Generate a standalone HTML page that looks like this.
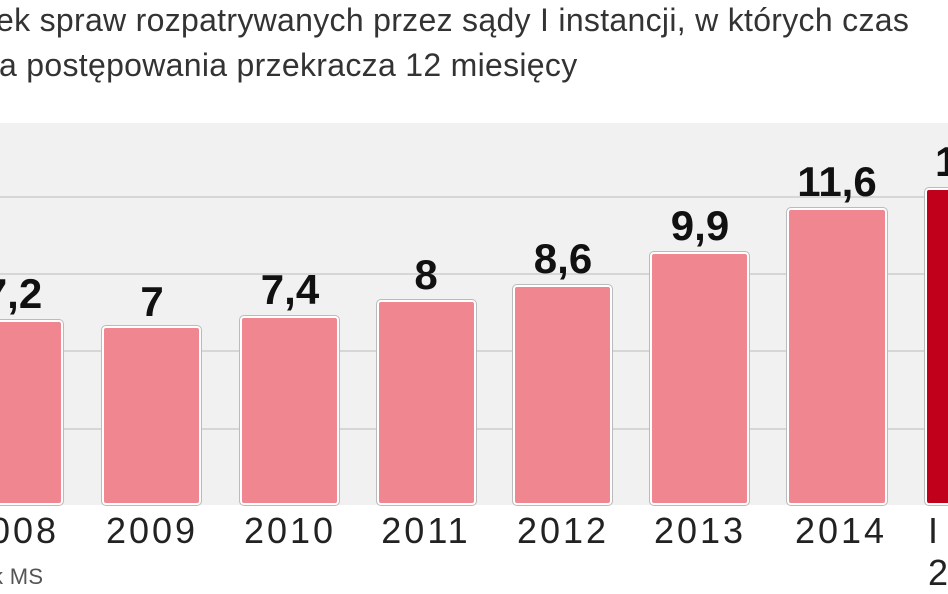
<!DOCTYPE html>
<html><head><meta charset="utf-8"><style>
body{margin:0;width:948px;height:593px;overflow:hidden;background:#fff;position:relative;font-family:"Liberation Sans",sans-serif}
.t{position:absolute;font-size:32px;color:#333;white-space:nowrap;letter-spacing:0.3px}
.chart{position:absolute;left:0;top:123px;width:948px;height:382px;background:#f1f1f1}
.g{position:absolute;left:0;width:948px;height:2px;background:#d6d6d6}
.b{position:absolute;background:#f08690;border:2px solid #fff;outline:1px solid #bbb;border-radius:4px;box-sizing:border-box}
.v{position:absolute;font-family:"Liberation Sans Narrow","Liberation Sans",sans-serif;font-weight:bold;font-size:42px;color:#111;text-align:center;width:140px}
.y{position:absolute;font-size:36px;letter-spacing:3px;color:#222;text-align:center;width:140px;top:510px}
</style></head><body>
<div class="t" style="left:-4px;top:2px">ek spraw rozpatrywanych przez sądy I instancji, w których czas</div>
<div class="t" style="left:-1px;top:47px">a postępowania przekracza 12 miesięcy</div>
<div class="chart">
<div class="g" style="top:73px"></div>
<div class="g" style="top:150px"></div>
<div class="g" style="top:227px"></div>
<div class="g" style="top:305px"></div>
</div>
<div class="b" style="left:-36px;top:320px;width:99px;height:185px"></div>
<div class="b" style="left:102px;top:326px;width:99px;height:179px"></div>
<div class="b" style="left:240px;top:316px;width:99px;height:189px"></div>
<div class="b" style="left:377px;top:300px;width:99px;height:205px"></div>
<div class="b" style="left:513px;top:285px;width:99px;height:220px"></div>
<div class="b" style="left:650px;top:252px;width:99px;height:253px"></div>
<div class="b" style="left:787px;top:208px;width:100px;height:297px"></div>
<div class="b" style="left:925px;top:188px;width:100px;height:317px;background:#c1001c"></div>
<div class="v" style="left:-57px;top:270px">7,2</div>
<div class="v" style="left:82px;top:278px">7</div>
<div class="v" style="left:220px;top:266px">7,4</div>
<div class="v" style="left:356px;top:251px">8</div>
<div class="v" style="left:493px;top:235px">8,6</div>
<div class="v" style="left:630px;top:202px">9,9</div>
<div class="v" style="left:767px;top:158px">11,6</div>
<div class="v" style="left:905px;top:138px;text-align:left;padding-left:30px">1</div>
<div class="y" style="left:-57px">2008</div>
<div class="y" style="left:82px">2009</div>
<div class="y" style="left:220px">2010</div>
<div class="y" style="left:356px">2011</div>
<div class="y" style="left:493px">2012</div>
<div class="y" style="left:630px">2013</div>
<div class="y" style="left:771px">2014</div>
<div class="y" style="left:928px;text-align:left">I</div>
<div class="y" style="left:928px;top:552px;text-align:left">2</div>
<div class="t" style="left:-8px;top:564px;font-size:22px;color:#555">k MS</div>
</body></html>
